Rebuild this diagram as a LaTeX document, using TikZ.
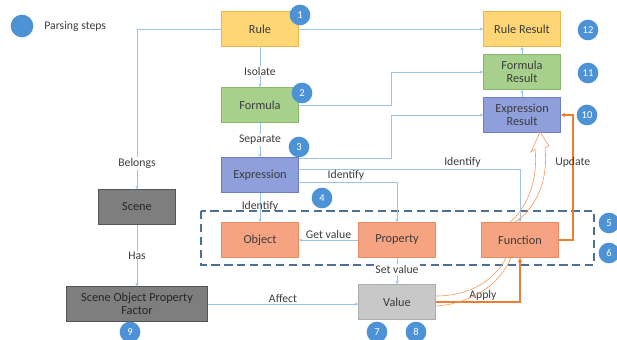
\documentclass[tikz,border=0pt]{standalone}
\usepackage{fontspec}
\setmainfont{Carlito}
\usetikzlibrary{arrows.meta,calc}

\definecolor{rulefill}{HTML}{FFD675}
\definecolor{ruleline}{HTML}{E8B64C}
\definecolor{formfill}{HTML}{A8D08D}
\definecolor{formline}{HTML}{86B86A}
\definecolor{exprfill}{HTML}{8E9FDC}
\definecolor{exprline}{HTML}{6B7FC6}
\definecolor{partfill}{HTML}{F6A382}
\definecolor{partline}{HTML}{E98B62}
\definecolor{darkfill}{HTML}{7E7E7E}
\definecolor{darkline}{HTML}{555555}
\definecolor{valfill}{HTML}{C8C8C8}
\definecolor{valline}{HTML}{ACACAC}
\definecolor{stepblue}{HTML}{4E92D6}
\definecolor{linkblue}{HTML}{9DC3E6}
\definecolor{hotorange}{HTML}{ED7D31}
\definecolor{groupline}{HTML}{4C7096}
\definecolor{textgray}{HTML}{3C3C3C}

\tikzset{
  box/.style={draw, line width=0.5pt, minimum width=2.31cm, minimum height=1.05cm,
    align=center, inner sep=1pt, text=textgray, font=\fontsize{10.5}{11.5}\selectfont},
  rulebox/.style={box, fill=rulefill, draw=ruleline},
  formbox/.style={box, fill=formfill, draw=formline},
  exprbox/.style={box, fill=exprfill, draw=exprline},
  partbox/.style={box, fill=partfill, draw=partline},
  darkbox/.style={box, fill=darkfill, draw=darkline, text=black!85},
  valbox/.style={box, fill=valfill, draw=valline},
  stepnum/.style={circle, fill=stepblue, text=white, minimum size=0.62cm,
    inner sep=0pt, font=\fontsize{9}{9}\selectfont},
  lbl/.style={text=textgray, inner sep=1pt, font=\fontsize{10}{11}\selectfont},
  link/.style={draw=linkblue, line width=0.7pt, -{Stealth[length=3pt,width=3pt]}},
  hot/.style={draw=hotorange, line width=1.3pt, -{Stealth[length=4pt,width=4pt]}},
  swoosh/.style={draw=hotorange!80, line width=0.5pt},
  groupbox/.style={draw=groupline, line width=1.4pt, dash pattern=on 7pt off 4pt}
}

\begin{document}
\begin{tikzpicture}[x=0.03cm,y=-0.03cm]
  \useasboundingbox (0,0) rectangle (617,340);

  % legend
  \node[stepnum, minimum size=0.68cm] (legend) at (22,26) {};
  \node[lbl, anchor=west] (legendtext) at (43,26) {Parsing steps};

  % parsing chain
  \node[rulebox] (rule) at (260,29) {Rule};
  \node[formbox] (formula) at (260,105) {Formula};
  \node[exprbox] (expr) at (260,175) {Expression};
  \node[darkbox] (scene) at (137,207) {Scene};
  \node[darkbox, minimum width=4.23cm] (factor) at (137,304) {Scene Object Property\\Factor};

  % group of parts
  \draw[groupbox] (201,211) rectangle (594,265);
  \node[partbox] (object) at (260,240) {Object};
  \node[partbox] (property) at (397,240) {Property};
  \node[partbox] (function) at (520,240) {Function};
  \node[valbox] (value) at (397,302) {Value};

  % results
  \node[rulebox] (ruleres) at (522,29) {Rule Result};
  \node[formbox] (formres) at (522,72) {Formula\\Result};
  \node[exprbox] (exprres) at (522,115) {Expression\\Result};

  % blue links
  \draw[link] (rule) -- (ruleres);
  \draw[link] (rule.west) -| node[lbl, fill=white, pos=0.92] {Belongs} (scene.north);
  \draw[link] (rule) -- node[lbl, fill=white, pos=0.6] {Isolate} (formula);
  \draw[link] (formula) -- node[lbl, fill=white] {Separate} (expr);
  \draw[link] (formula.east) -- ++(93,0) |- (formres.west);
  \draw[link] ($(expr.east)+(0,-17)$) -- ++(93,0) |- (exprres.west);
  \draw[link] ($(expr.east)+(0,-6)$) -| node[lbl, pos=0.37, above] {Identify} (function.north);
  \draw[link] ($(expr.east)+(0,7)$) -| node[lbl, pos=0.24, above] {Identify} (property.north);
  \draw[link] (expr) -- node[lbl, pos=0.45] {Identify} (object);
  \draw[link] (property) -- node[lbl, above] {Get value} (object);
  \draw[link] (property) -- node[lbl, fill=white, pos=0.45] {Set value} (value);
  \draw[link] (scene) -- node[lbl, fill=white] {Has} (factor);
  \draw[link] (factor.east) -- node[lbl, above] {Affect} (factor.east -| value.west);
  \draw[link] (exprres) -- (formres);
  \draw[link] (formres) -- (ruleres);

  % orange links
  \draw[hot] (function.east) -- ++(14,0) |- node[lbl, pos=0.31] {Update} (exprres.east);
  \draw[hot] (value.east) -| node[lbl, pos=0.28, above] {Apply} (function.south);

  % curved arrows
  \draw[swoosh] ($(value.east)+(0,-6)$) .. controls (470,296) and (495,280) .. ($(function.south)+(-14,0)$);
  \draw[swoosh] ($(value.east)+(0,4)$) .. controls (470,304) and (500,285) .. ($(function.south)+(-9,0)$);
  \draw[swoosh] ($(function.north)+(-10,0)$) .. controls (530,205) and (538,175) .. (535,149)
    -- (531,152) -- (540,132) -- (549,146) -- (545,148)
    .. controls (548,175) and (540,205) .. ($(function.north)+(-5,0)$);

  % step numbers
  \node[stepnum] (s1) at (300,15) {1};
  \node[stepnum] (s2) at (302,93) {2};
  \node[stepnum] (s3) at (299,147) {3};
  \node[stepnum] (s4) at (322,198) {4};
  \node[stepnum] (s5) at (609,223) {5};
  \node[stepnum] (s6) at (609,253) {6};
  \node[stepnum] (s7) at (377,332) {7};
  \node[stepnum] (s8) at (416,332) {8};
  \node[stepnum] (s9) at (130,332) {9};
  \node[stepnum] (s10) at (587,115) {10};
  \node[stepnum] (s11) at (588,73) {11};
  \node[stepnum] (s12) at (588,30) {12};
\end{tikzpicture}
\end{document}
